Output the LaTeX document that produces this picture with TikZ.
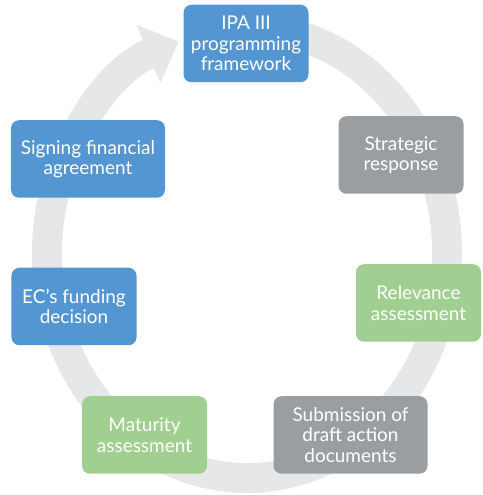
\documentclass[tikz,border=0pt]{standalone}
\usepackage{fontspec}
\setmainfont{Lato}
\usepackage{tikz}
\usetikzlibrary{arrows.meta}
\usepackage{xcolor}
\definecolor{stageblue}{RGB}{84, 150, 209}
\definecolor{stagegrey}{RGB}{155, 158, 160}
\definecolor{stagegreen}{RGB}{161, 207, 145}
\definecolor{ringgrey}{RGB}{230, 231, 232}

\begin{document}
\begin{tikzpicture}[>=Stealth,
    stage/.style={rounded corners=0.16cm, minimum width=2.5cm, minimum height=1.55cm,
      align=center, text=white, inner sep=2pt,
      font=\fontsize{10.8}{11.6}\selectfont},
    widestage/.style={stage, minimum width=3.08cm}]

  \useasboundingbox (0,0) rectangle (9.64,9.9);

  % ---------- Cycle ring ----------
  \coordinate (ringcentre) at (4.94,4.84);
  \draw[ringgrey, line width=0.6cm, -{Triangle[length=0.65cm, width=1.22cm]}]
    ([shift={(80:4.0 and 4.5)}]ringcentre)
    arc[start angle=80, end angle=-250, x radius=4.0, y radius=4.5];

  % ---------- Stages ----------
  \node[stage, fill=stageblue] (ipa) at (4.92,9.03) {IPA III\\programming\\framework};
  \node[stage, fill=stagegrey] (strategic) at (8.02,6.8) {Strategic\\response};
  \node[stage, fill=stagegreen] (relevance) at (8.37,3.84) {Relevance\\assessment};
  \node[widestage, fill=stagegrey] (submission) at (7.01,1.2) {Submission of\\draft action\\documents};
  \node[stage, fill=stagegreen] (maturity) at (2.89,1.2) {Maturity\\assessment};
  \node[stage, fill=stageblue] (funding) at (1.48,3.77) {EC’s funding\\decision};
  \node[widestage, fill=stageblue] (signing) at (1.76,6.72) {Signing financial\\agreement};

\end{tikzpicture}
\end{document}
